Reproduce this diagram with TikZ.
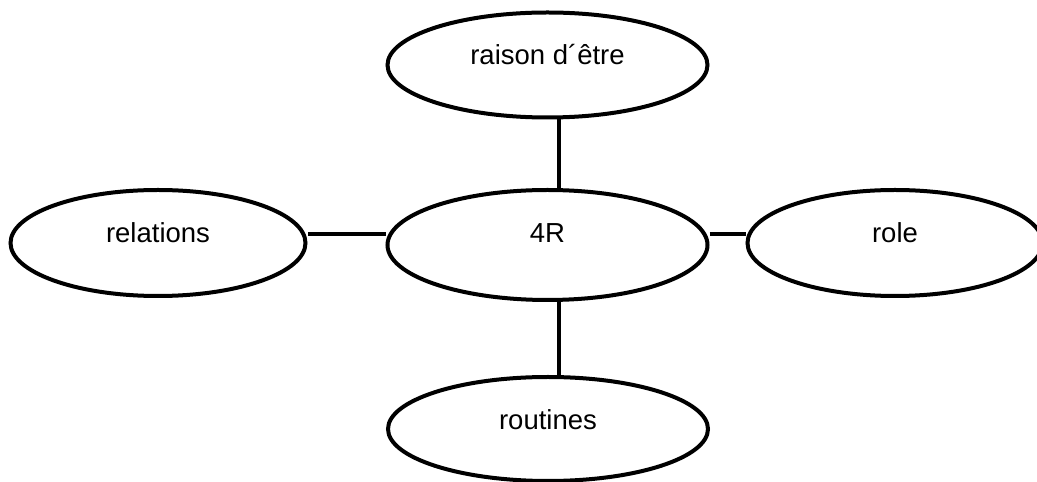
\documentclass[tikz,border=0pt]{standalone}
\usepackage{fontspec}
\setmainfont{Liberation Sans}
\usetikzlibrary{shapes.geometric}

\begin{document}
\begin{tikzpicture}[
    x=1pt, y=1pt,
    bubble/.style={ellipse, draw, line width=4pt, inner sep=0pt, minimum width=320pt, minimum height=106pt},
    side/.style={bubble, minimum width=295pt},
    every label/.style={font=\fontsize{27.5}{33}\selectfont},
    link/.style={line width=4pt}
  ]
  \useasboundingbox (0,0) rectangle (1037,482);

  \node[bubble, minimum height=110pt, label={[yshift=12pt]center:4R}] (core) at (547.5,237) {};
  \node[bubble, minimum height=105pt, label={[yshift=10pt]center:raison d´être}] (raison) at (547.5,417) {};
  \node[bubble, minimum height=104pt, label={[yshift=9pt]center:routines}] (routines) at (548,53) {};
  \node[side, label={[yshift=10pt]center:relations}] (relations) at (158,239) {};
  \node[side, label={[yshift=10pt]center:role}] (role) at (895,239) {};

  \draw[link] ([xshift=11.5pt]core.north) -- ([xshift=11.5pt]raison.south);
  \draw[link] ([xshift=11.5pt]core.south) -- ([xshift=11pt]routines.north);
  \draw[link] ([yshift=11pt]core.west) -- ([yshift=9pt]relations.east);
  \draw[link] ([yshift=11pt]core.east) -- ([yshift=9pt]role.west);
\end{tikzpicture}
\end{document}
